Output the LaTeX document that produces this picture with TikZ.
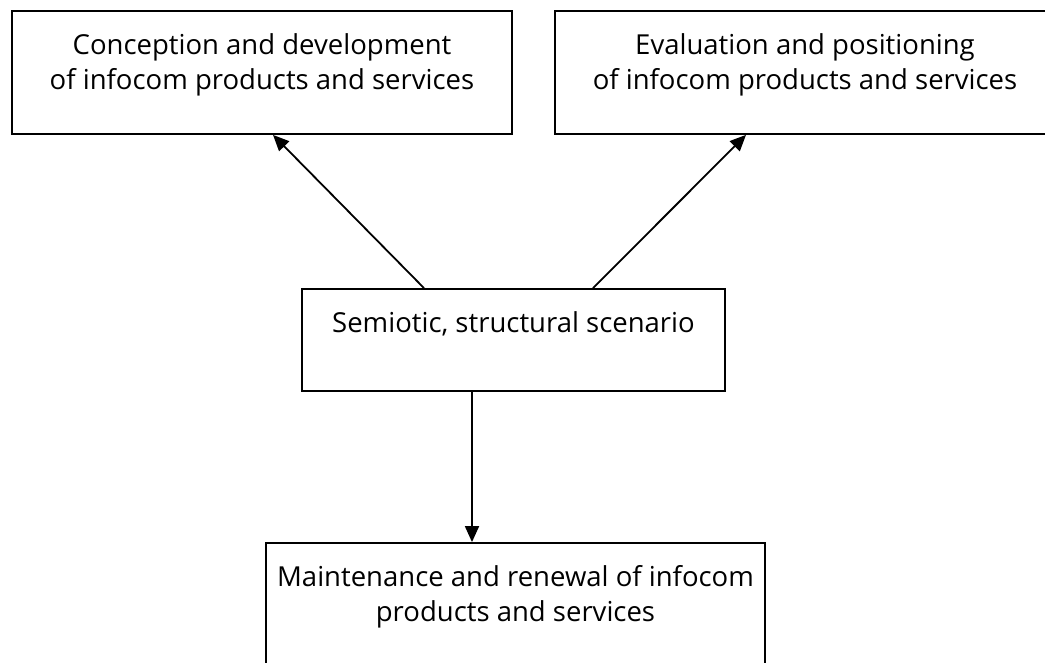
\documentclass[tikz,border=0pt]{standalone}
\usepackage{fontspec}
\setmainfont{Open Sans}
\usetikzlibrary{arrows.meta}

\tikzset{
  box/.style={draw, line width=1.8pt, rectangle, inner sep=0pt},
  boxtext/.style={anchor=north, yshift=-19.5pt, align=center,
    font=\fontsize{27.5pt}{35.5pt}\selectfont},
  link/.style={line width=1.8pt, -{Triangle[length=16pt,width=14pt]}}
}

\begin{document}
\begin{tikzpicture}[x=1pt,y=-1pt]
  \useasboundingbox (0,0) rectangle (1045,663);
  \clip (0,0) rectangle (1045,663);
  % the four boxes
  \node[box, minimum width=500pt, minimum height=123pt,
    label={[boxtext]north:Conception and development\\of infocom products and services}]
    (concept) at (262,72.5) {};
  \node[box, minimum width=500pt, minimum height=123pt,
    label={[boxtext]north:Evaluation and positioning\\of infocom products and services}]
    (evaluation) at (805,72.5) {};
  \node[box, minimum width=423pt, minimum height=102pt,
    label={[boxtext]north:Semiotic, structural scenario}]
    (scenario) at (513.5,340) {};
  \node[box, minimum width=499pt, minimum height=140pt,
    label={[boxtext]north:Maintenance and renewal of infocom\\products and services}]
    (maintenance) at (515.5,613) {};
  % arrows
  \draw[link] ([xshift=-89.5pt]scenario.north) -- ([xshift=11pt]concept.south);
  \draw[link] ([xshift=79.5pt]scenario.north) -- ([xshift=-59pt]evaluation.south);
  \draw[link] ([xshift=-41.5pt]scenario.south) -- ([xshift=-43.5pt]maintenance.north);
\end{tikzpicture}
\end{document}
